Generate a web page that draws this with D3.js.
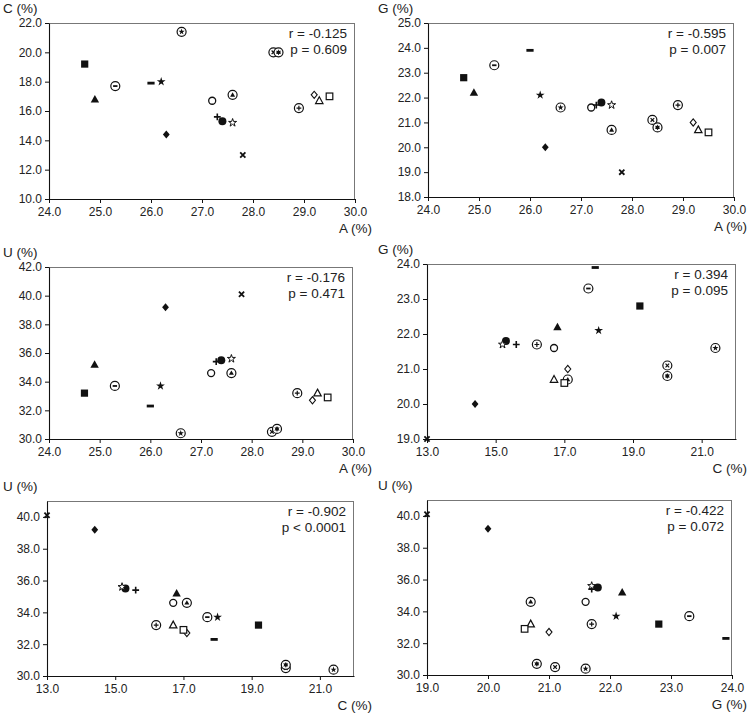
<!DOCTYPE html>
<html><head><meta charset="utf-8">
<script src="https://cdn.jsdelivr.net/npm/d3@7"></script>
<style>
body{margin:0;background:#fff;}
svg{display:block;font-family:"Liberation Sans",Arial,sans-serif;}
</style></head>
<body><svg id="c" width="751" height="715"></svg>
<script>
// ---- data (19 samples) ----
const markerTypes = ["sqF","triF","cDash","dash","starF","diaF","cStar","circO","plus","circF","starO","cTri","x","cX","cAst","cPlus","diaO","triO","sqO"];
const A = [24.7,24.9,25.3,26.0,26.2,26.3,26.6,27.2,27.3,27.4,27.6,27.6,27.8,28.4,28.5,28.9,29.2,29.3,29.5];
const C = [19.2,16.8,17.7,17.9,18.0,14.4,21.4,16.7,15.6,15.3,15.2,17.1,13.0,20.0,20.0,16.2,17.1,16.7,17.0];
const G = [22.8,22.2,23.3,23.9,22.1,20.0,21.6,21.6,21.7,21.8,21.7,20.7,19.0,21.1,20.8,21.7,21.0,20.7,20.6];
const U = [33.2,35.2,33.7,32.3,33.7,39.2,30.4,34.6,35.4,35.5,35.6,34.6,40.1,30.5,30.7,33.2,32.7,33.2,32.9];

const rLabels = ["r = -0.125","r = -0.595","r = -0.176","r = 0.394","r = -0.902","r = -0.422"];
const pLabels = ["p = 0.609","p = 0.007","p = 0.471","p = 0.095","p < 0.0001","p = 0.072"];

const ticksA = [24,25,26,27,28,29,30];
const ticksC_y1 = [10,12,14,16,18,20,22];
const ticksG_y2 = [18,19,20,21,22,23,24,25];
const ticksU_y3 = [30,32,34,36,38,40,42];
const ticksC_x = [13,15,17,19,21];
const ticksG_y4 = [19,20,21,22,23,24];
const ticksU_y5 = [30,32,34,36,38,40];
const ticksG_x = [19,20,21,22,23,24];

// ---- layout ----
const panels = [
  {xs:A, ys:C, xl:"A (%)", yl:"C (%)", xd:[24,30], yd:[10,22], xt:ticksA, yt:ticksC_y1, box:[49,23,355,199], ox:0, oy:0},
  {xs:A, ys:G, xl:"A (%)", yl:"G (%)", xd:[24,30], yd:[18,25], xt:ticksA, yt:ticksG_y2, box:[428,23,734,197], ox:375, oy:0},
  {xs:A, ys:U, xl:"A (%)", yl:"U (%)", xd:[24,30], yd:[30,42], xt:ticksA, yt:ticksU_y3, box:[49,267,353,439], ox:0, oy:240},
  {xs:C, ys:G, xl:"C (%)", yl:"G (%)", xd:[13,22], yd:[19,24], xt:ticksC_x, yt:ticksG_y4, box:[427,264,736,439], ox:375, oy:240},
  {xs:C, ys:U, xl:"C (%)", yl:"U (%)", xd:[13,22], yd:[30,41], xt:ticksC_x, yt:ticksU_y5, box:[47,501,354,676], ox:0, oy:475},
  {xs:G, ys:U, xl:"G (%)", yl:"U (%)", xd:[19,24], yd:[30,41], xt:ticksG_x, yt:ticksU_y5, box:[427,500,732,675], ox:375, oy:475}
];

const svg = d3.select("#c");
const TXT = "#222";

function star(size){ return d3.symbol().type(d3.symbolStar).size(size)(); }

function drawMarker(g, t){
  const B = "#111";
  switch(t){
    case "sqF": g.append("rect").attr("x",-3.6).attr("y",-3.6).attr("width",7.2).attr("height",7.2).attr("fill",B); break;
    case "sqO": g.append("rect").attr("x",-3.3).attr("y",-3.3).attr("width",6.6).attr("height",6.6).attr("fill","#fff").attr("stroke",B).attr("stroke-width",1.2); break;
    case "triF": g.append("path").attr("d","M0,-4.3L4.2,3.2L-4.2,3.2Z").attr("fill",B); break;
    case "triO": g.append("path").attr("d","M0,-4L3.7,2.8L-3.7,2.8Z").attr("fill","#fff").attr("stroke",B).attr("stroke-width",1.2); break;
    case "diaF": g.append("path").attr("d","M0,-4L3.4,0L0,4L-3.4,0Z").attr("fill",B); break;
    case "diaO": g.append("path").attr("d","M0,-3.6L3,0L0,3.6L-3,0Z").attr("fill","#fff").attr("stroke",B).attr("stroke-width",1.1); break;
    case "circF": g.append("circle").attr("r",4).attr("fill",B); break;
    case "circO": g.append("circle").attr("r",3.5).attr("fill","#fff").attr("stroke",B).attr("stroke-width",1.3); break;
    case "dash": g.append("rect").attr("x",-3.6).attr("y",-1.4).attr("width",7.2).attr("height",2.8).attr("fill",B); break;
    case "plus": g.append("path").attr("d","M-3.4,0H3.4M0,-3.4V3.4").attr("stroke",B).attr("stroke-width",1.6); break;
    case "x": g.append("path").attr("d","M-2.6,-2.6L2.6,2.6M-2.6,2.6L2.6,-2.6").attr("stroke",B).attr("stroke-width",1.8); break;
    case "starF": g.append("path").attr("d",star(24)).attr("fill",B); break;
    case "starO": g.append("path").attr("d",star(20)).attr("fill","#fff").attr("stroke",B).attr("stroke-width",1); break;
    default: {
      g.append("circle").attr("r",4.5).attr("fill","#fff").attr("stroke",B).attr("stroke-width",1.2);
      if(t==="cDash") g.append("rect").attr("x",-2.2).attr("y",-0.9).attr("width",4.4).attr("height",1.8).attr("fill",B);
      if(t==="cStar") g.append("path").attr("d",star(12)).attr("fill",B);
      if(t==="cTri") g.append("path").attr("d","M0,-2.6L2.5,1.8L-2.5,1.8Z").attr("fill",B);
      if(t==="cX") g.append("path").attr("d","M-1.8,-1.8L1.8,1.8M-1.8,1.8L1.8,-1.8").attr("stroke",B).attr("stroke-width",1.2);
      if(t==="cAst"){ g.append("circle").attr("r",1.9).attr("fill",B); g.append("path").attr("d","M0,-2.6V2.6M-2.3,-1.3L2.3,1.3M-2.3,1.3L2.3,-1.3").attr("stroke",B).attr("stroke-width",0.8); }
      if(t==="cPlus") g.append("path").attr("d","M-2.4,0H2.4M0,-2.4V2.4").attr("stroke",B).attr("stroke-width",1.2);
    }
  }
}

panels.forEach((P, i) => {
  const [x0,y0,x1,y1] = P.box;
  const x = d3.scaleLinear().domain(P.xd).range([x0,x1]);
  const y = d3.scaleLinear().domain(P.yd).range([y1,y0]);
  const g = svg.append("g");

  // frame: top/right grey
  g.append("line").attr("x1",x0).attr("x2",x1).attr("y1",y0+0.5).attr("y2",y0+0.5).attr("stroke","#777").attr("stroke-width",1);
  g.append("line").attr("x1",x1-0.5).attr("x2",x1-0.5).attr("y1",y0).attr("y2",y1).attr("stroke","#777").attr("stroke-width",1);

  const xAxis = d3.axisBottom(x).tickValues(P.xt).tickFormat(d3.format(".1f")).tickSizeInner(4).tickSizeOuter(0).tickPadding(4);
  const yAxis = d3.axisLeft(y).tickValues(P.yt).tickFormat(d3.format(".1f")).tickSizeInner(4).tickSizeOuter(0).tickPadding(3);
  const gx = g.append("g").attr("transform",`translate(0,${y1})`).call(xAxis);
  const gy = g.append("g").attr("transform",`translate(${x0},0)`).call(yAxis);
  [gx,gy].forEach(a=>{
    a.selectAll("path.domain").attr("stroke","#111").attr("stroke-width",1.1);
    a.selectAll(".tick line").attr("stroke","#111");
    a.selectAll("text").attr("fill",TXT).style("font-size","12px").style("font-family","'Liberation Sans',Arial,sans-serif");
  });

  // axis titles
  g.append("text").attr("x",P.ox+3).attr("y",y0-10).attr("fill",TXT).style("font-size","13.5px").text(P.yl);
  g.append("text").attr("x",P.ox+372).attr("y",y1+34).attr("text-anchor","end").attr("fill",TXT).style("font-size","13.5px").text(P.xl);

  // stats
  g.append("text").attr("x",x1-8).attr("y",y0+15).attr("text-anchor","end").attr("fill",TXT).style("font-size","13.5px").text(rLabels[i]);
  g.append("text").attr("x",x1-8).attr("y",y0+31).attr("text-anchor","end").attr("fill",TXT).style("font-size","13.5px").text(pLabels[i]);

  // points
  markerTypes.forEach((t, k) => {
    const m = g.append("g").attr("transform",`translate(${x(P.xs[k])},${y(P.ys[k])})`);
    drawMarker(m, t);
  });
});
</script></body></html>
